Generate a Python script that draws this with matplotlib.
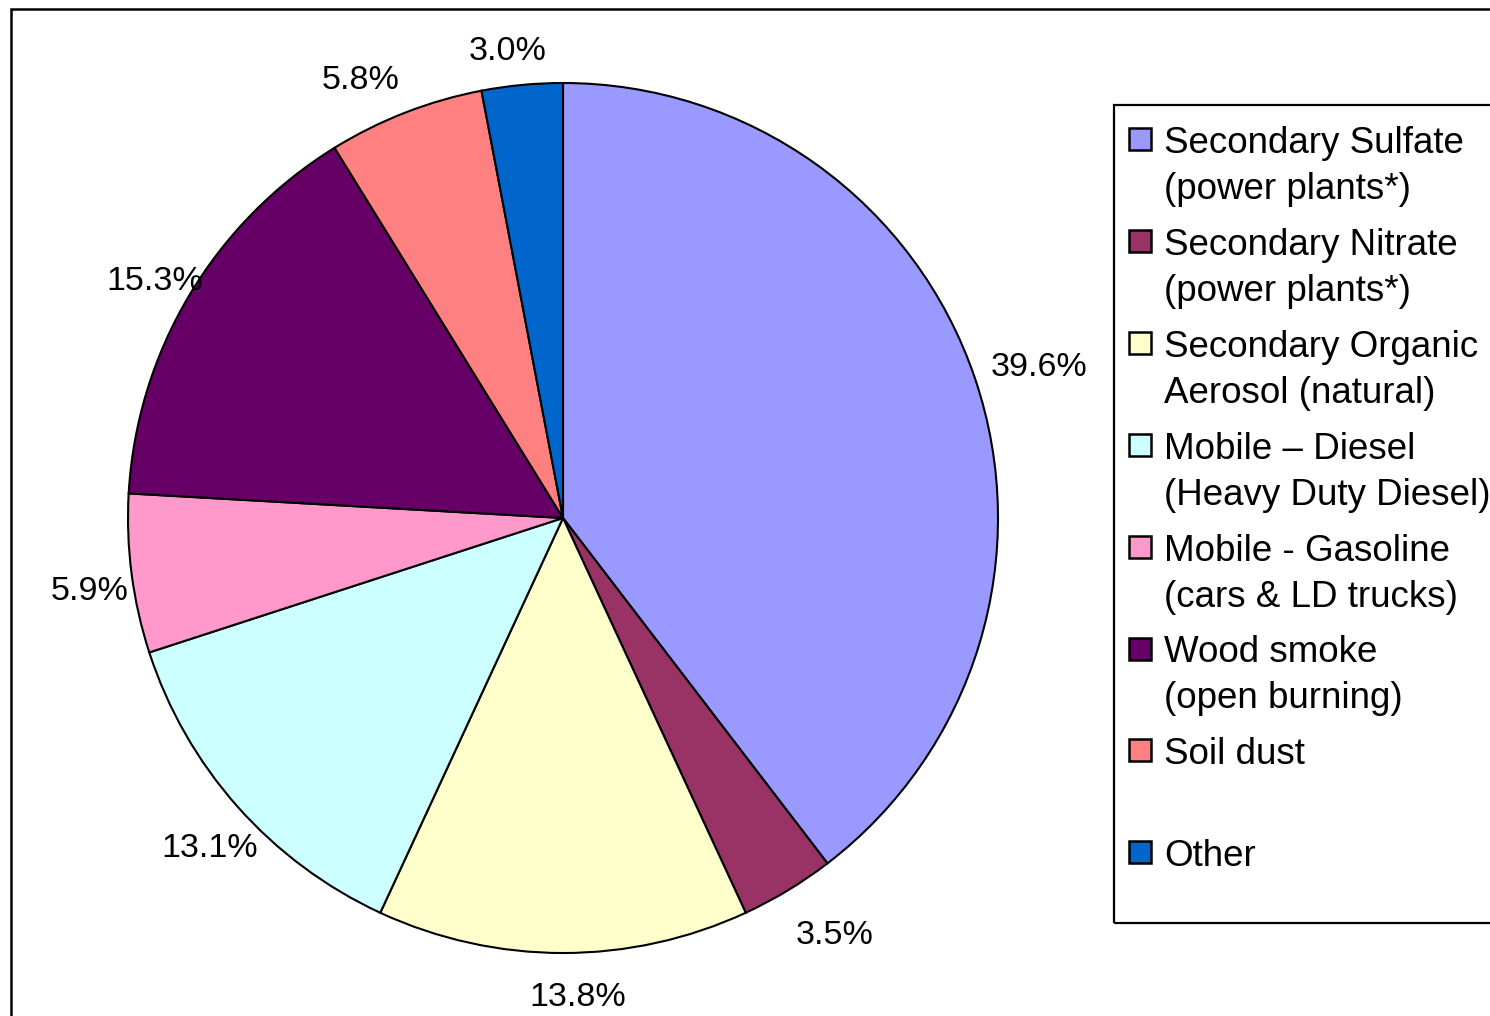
import numpy as np
import matplotlib
matplotlib.use("Agg")
import matplotlib.pyplot as plt
from matplotlib.patches import Rectangle

plt.rcParams['font.family'] = ['Liberation Sans', 'DejaVu Sans']

sources = [
    "Secondary Sulfate\n(power plants*)",
    "Secondary Nitrate\n(power plants*)",
    "Secondary Organic\nAerosol (natural)",
    "Mobile \u2013 Diesel\n(Heavy Duty Diesel)",
    "Mobile - Gasoline\n(cars & LD trucks)",
    "Wood smoke\n(open burning)",
    "Soil dust",
    "Other",
]
shares = [39.6, 3.5, 13.8, 13.1, 5.9, 15.3, 5.8, 3.0]
colors = ["#9999FF", "#993366", "#FFFFCC", "#CCFFFF",
          "#FF99CC", "#660066", "#FF8080", "#0066CC"]

W, H = 1490, 1016
fig = plt.figure(figsize=(W / 100, H / 100), dpi=100)


def fx(x):
    return x / W


def fy(y):
    return 1 - y / H


# pie centre and radius in pixels
cx, cy, R = 563, 518, 435
span = 1.2 * R
ax = fig.add_axes([fx(cx - span), fy(cy + span), 2 * span / W, 2 * span / H])
wedges, _ = ax.pie(shares, colors=colors, startangle=90, counterclock=False,
                   radius=1, wedgeprops=dict(edgecolor="black", linewidth=1.5))
ax.set_xlim(-1.2, 1.2)
ax.set_ylim(-1.2, 1.2)
ax.axis("off")

# percentage labels just outside each wedge (radius, angle nudge in degrees)
label_dist = [1.151, 1.137, 1.095, 1.106, 1.099, 1.088, 1.116, 1.088]
label_turn = [-0.8, 2.1, 1.8, 1.2, 1.0, 0.3, 3.4, 1.3]
for w, v, d, t in zip(wedges, shares, label_dist, label_turn):
    mid = np.deg2rad((w.theta1 + w.theta2) / 2 + t)
    ax.text(d * np.cos(mid), d * np.sin(mid), f"{v:.1f}%",
            ha="center", va="center_baseline", fontsize=24.5, color="black")

# chart border (runs off the right and bottom)
fig.add_artist(Rectangle((fx(11), fy(1030)), (1520 - 11) / W, (1030 - 9) / H,
                         fill=False, edgecolor="black", linewidth=1.8,
                         transform=fig.transFigure))

# legend box
fig.add_artist(Rectangle((fx(1114), fy(923)), (1520 - 1114) / W, (923 - 105) / H,
                         fill=False, edgecolor="black", linewidth=1.6,
                         transform=fig.transFigure))

base0, step, line_gap = 153, 101.9, 46
for i, (name, col) in enumerate(zip(sources, colors)):
    base = base0 + i * step
    fig.add_artist(Rectangle((fx(1129), fy(base - 3)), 22 / W, 22 / H,
                             facecolor=col, edgecolor="black", linewidth=1.8,
                             transform=fig.transFigure))
    for j, line in enumerate(name.split("\n")):
        fig.text(fx(1164), fy(base + j * line_gap), line, ha="left",
                 va="baseline", fontsize=26.5, color="black")

fig.savefig("out.png", dpi=100, facecolor="white")
